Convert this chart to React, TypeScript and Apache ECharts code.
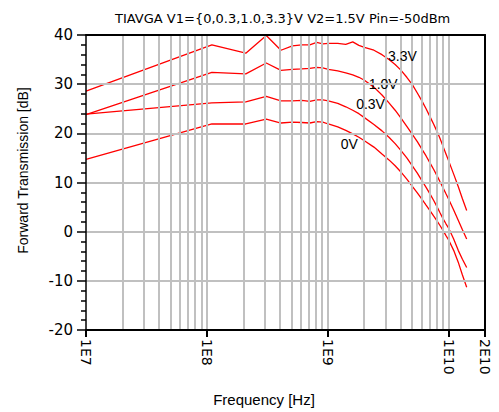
import React, { useEffect, useRef } from "react";
import * as echarts from "echarts";

// Sweep frequencies (Hz)
const FREQ_HZ = [
  1e7, 1.1e8, 2.1e8, 3.1e8, 4.1e8, 5.1e8, 6.1e8, 7.1e8, 8.1e8, 9.1e8, 1.01e9,
  1.21e9, 1.41e9, 1.61e9, 1.81e9, 2.01e9, 2.41e9, 2.81e9, 3.21e9, 3.61e9,
  4.01e9, 4.51e9, 5.01e9, 5.51e9, 6.01e9, 6.51e9, 7.01e9, 7.51e9, 8.01e9,
  8.51e9, 9.01e9, 9.51e9, 1.001e10, 1.101e10, 1.201e10, 1.301e10, 1.411e10,
];

// Forward transmission (dB) per V1 setting
const S21_V33 = [
  28.6, 38.0, 36.3, 39.9, 36.9, 37.8, 38.0, 38.0, 38.5, 38.2, 38.3,
  38.3, 38.1, 38.6, 37.9, 37.5, 36.9, 36.0, 35.0, 34.0,
  32.9, 31.4, 29.9, 28.2, 26.6, 25.0, 23.4, 21.9, 20.4,
  18.9, 17.3, 15.8, 14.4, 11.7, 9.2, 6.7, 4.3,
];
const S21_V10 = [
  23.8, 32.4, 32.1, 34.3, 32.8, 33.0, 33.1, 33.2, 33.4, 33.3, 33.0,
  32.7, 32.3, 31.9, 31.4, 30.8, 29.4, 27.8, 26.2, 24.7,
  23.2, 21.4, 19.8, 18.3, 16.8, 15.4, 14.0, 12.7, 11.4,
  10.1, 8.9, 7.7, 6.6, 4.4, 2.3, 0.4, -1.5,
];
const S21_V03 = [
  23.9, 26.2, 26.4, 27.5, 26.6, 26.6, 26.7, 26.5, 26.8, 26.8, 26.6,
  26.1, 25.4, 24.7, 24.0, 23.2, 21.8, 20.5, 19.2, 17.9,
  16.6, 15.0, 13.4, 11.9, 10.4, 9.0, 7.7, 6.4, 5.1,
  3.8, 2.6, 1.6, 0.7, -1.5, -3.8, -5.6, -7.3,
];
const S21_V00 = [
  14.7, 21.9, 21.9, 22.9, 22.1, 22.3, 22.2, 22.1, 22.4, 22.3, 21.9,
  21.3, 20.6, 19.9, 19.2, 18.5, 17.2, 15.8, 14.6, 13.4,
  12.2, 10.7, 9.2, 7.9, 6.6, 5.4, 4.3, 3.2, 2.2,
  1.2, 0.2, -0.8, -1.7, -3.8, -6.2, -8.8, -11.3,
];

const SERIES_NAMES = ["3.3V", "1.0V", "0.3V", "0V"];
const SERIES_VALUES = [S21_V33, S21_V10, S21_V03, S21_V00];

// In-plot curve labels (position in data units)
const LABEL_FREQ = [4.15e9, 2.88e9, 2.26e9, 1.51e9];
const LABEL_DB = [35.8, 30.0, 26.0, 17.8];

// Axis ticks
const X_TICKS = [1e7, 1e8, 1e9, 1e10, 2e10];
const X_MIN = 1e7;
const X_MAX = 2e10;
const Y_MIN = -20;
const Y_MAX = 40;
const Y_STEP = 10;
const DECADES = [1e7, 1e8, 1e9, 1e10];
const MULTIPLIERS = [1, 2, 3, 4, 5, 6, 7, 8, 9];

const TITLE = "TIAVGA V1={0,0.3,1.0,3.3}V V2=1.5V Pin=-50dBm";
const X_NAME = "Frequency [Hz]";
const Y_NAME = "Forward Transmission [dB]";

const FONT = "'Liberation Sans', Arial, Helvetica, sans-serif";
const WIDE_FONT = "'DejaVu Sans', 'Liberation Sans', sans-serif";

function fmtE(v: number): string {
  const e = Math.floor(Math.log10(v) + 1e-6);
  const m = Math.round(v / Math.pow(10, e));
  return m + "E" + e;
}

export default function App() {
  const ref = useRef<HTMLDivElement>(null);
  useEffect(() => {
    if (!ref.current) return;
    const chart = echarts.init(ref.current, undefined, { renderer: "svg" });
    const gridFreqs: number[] = [];
    DECADES.forEach((d) =>
      MULTIPLIERS.forEach((m) => {
        const f = m * d;
        if (f > X_MIN && f < X_MAX) gridFreqs.push(f);
      })
    );

    const curveSeries = SERIES_NAMES.map((name, si) => ({
      type: "line",
      name,
      data: FREQ_HZ.map((f, i) => [f, SERIES_VALUES[si][i]]),
      showSymbol: false,
      symbol: "none",
      lineStyle: { color: "#ff0000", width: 1.3 },
      itemStyle: { color: "#ff0000" },
      z: 3,
      markPoint: {
        silent: true,
        symbol: "circle",
        symbolSize: 1,
        itemStyle: { color: "rgba(0,0,0,0)" },
        data: [
          {
            coord: [LABEL_FREQ[si], LABEL_DB[si]],
            label: {
              show: true,
              position: "inside",
              formatter: name,
              color: "#000",
              fontSize: 14,
              fontFamily: FONT,
            },
          },
        ],
      },
    }));

    chart.setOption({
      animation: false,
      title: {
        text: TITLE,
        left: 110,
        top: 7,
        textStyle: { fontSize: 13, fontWeight: "normal", color: "#000", fontFamily: WIDE_FONT },
      },
      grid: { left: 86, right: 14, top: 35, bottom: 81, containLabel: false },
      xAxis: [
        {
          type: "log",
          min: X_MIN,
          max: X_MAX,
          logBase: 10,
          z: 10,
          name: X_NAME,
          nameLocation: "middle",
          nameGap: 62,
          nameTextStyle: { fontSize: 15, color: "#000", fontFamily: FONT, padding: [0, 43, 0, 0] },
          axisLine: { show: true, onZero: false, lineStyle: { color: "#000", width: 2 } },
          axisTick: { show: true, length: 7, customValues: X_TICKS, lineStyle: { color: "#000", width: 2 } },
          axisLabel: {
            show: true,
            rotate: -90,
            margin: 9,
            customValues: X_TICKS,
            formatter: (v: number) => fmtE(v),
            fontSize: 14,
            color: "#000",
            fontFamily: WIDE_FONT,
          },
          splitLine: { show: false },
          minorTick: { show: false },
        },
        {
          type: "log",
          min: X_MIN,
          max: X_MAX,
          logBase: 10,
          position: "top",
          z: 10,
          axisLine: { show: true, onZero: false, lineStyle: { color: "#000", width: 2 } },
          axisTick: { show: false },
          axisLabel: { show: false },
          splitLine: { show: false },
        },
      ],
      yAxis: [
        {
          type: "value",
          min: Y_MIN,
          max: Y_MAX,
          interval: Y_STEP,
          z: 10,
          name: Y_NAME,
          nameLocation: "middle",
          nameGap: 56,
          nameTextStyle: { fontSize: 14, color: "#000", fontFamily: FONT, padding: [0, 0, 0, 24] },
          axisLine: { show: true, onZero: false, lineStyle: { color: "#000", width: 1.5 } },
          axisTick: { show: true, length: 9, lineStyle: { color: "#000", width: 1.5 } },
          minorTick: { show: true, splitNumber: 5, length: 5, lineStyle: { color: "#000", width: 1.5 } },
          axisLabel: { fontSize: 15, color: "#000", margin: 13, fontFamily: WIDE_FONT },
          splitLine: {
            show: true,
            showMinLine: false,
            showMaxLine: false,
            lineStyle: { color: "#c0c0c0", width: 2 },
          },
        },
        {
          type: "value",
          min: Y_MIN,
          max: Y_MAX,
          interval: Y_STEP,
          position: "right",
          z: 10,
          axisLine: { show: true, onZero: false, lineStyle: { color: "#000", width: 2 } },
          axisTick: { show: false },
          axisLabel: { show: false },
          splitLine: { show: false },
        },
      ],
      series: [
        {
          type: "line",
          name: "grid",
          data: [],
          silent: true,
          z: 1,
          markLine: {
            silent: true,
            symbol: "none",
            label: { show: false },
            lineStyle: { color: "#c0c0c0", width: 2, type: "solid" },
            data: gridFreqs.map((f) => ({ xAxis: f })),
          },
        },
        ...curveSeries,
      ],
    });
    return () => chart.dispose();
  }, []);
  return (
    <div
      ref={ref}
      style={{ position: "fixed", left: 0, top: 0, width: 499, height: 412, background: "#fff" }}
    />
  );
}
